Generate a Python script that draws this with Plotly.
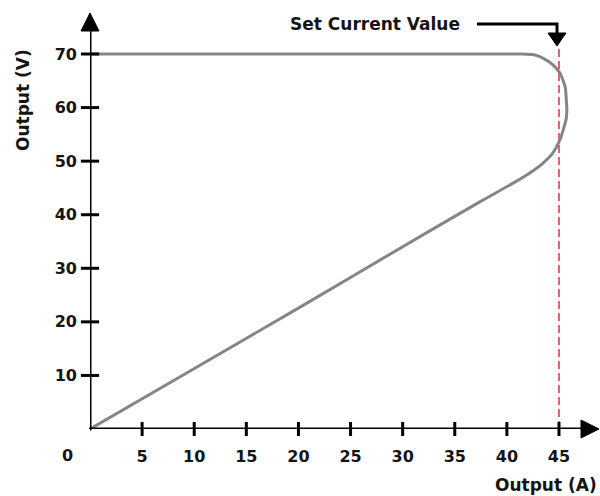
import plotly.graph_objects as go

# ---- data ----
current_a = [0, 10.1, 20.2, 29.8, 37.4, 40.6, 42.2, 43.5, 44.4, 45.1, 45.4, 45.7, 45.75,
             45.7, 45.6, 45.1, 44.4, 43.5, 42.6, 41.5, 0]
voltage_v = [0, 11.4, 22.8, 33.8, 42.4, 45.9, 47.8, 49.7, 51.5, 54.0, 55.8, 58.0, 60.0,
             61.4, 63.8, 66.4, 68.0, 69.2, 69.85, 70, 70]
x_ticks = [5, 10, 15, 20, 25, 30, 35, 40, 45]
y_ticks = [10, 20, 30, 40, 50, 60, 70]
set_current = 45
set_current_top_v = 71.3
set_label = "Set Current Value"
x_title = "Output (A)"
y_title = "Output (V)"

# ---- layout geometry ----
W, H = 600, 496
L, R, T, B = 90, 18, 28, 67
PW, PH = W - L - R, H - T - B
X_MAX = PW / 10.422
Y_MAX = PH / 5.357


def pxx(p):
    return (p - L) / PW


def pxy(p):
    return (H - B - p) / PH


FONT = "DejaVu Sans"
TXT = "#151515"

fig = go.Figure()

# set current dashed guide
fig.add_trace(go.Scatter(x=[set_current, set_current], y=[0, set_current_top_v],
                         mode="lines", line=dict(color="#d8232d", width=1.4, dash="8px,4px"),
                         hoverinfo="skip", showlegend=False, cliponaxis=False))

# characteristic curve
fig.add_trace(go.Scatter(x=current_a, y=voltage_v, mode="lines",
                         line=dict(color="#858585", width=3, shape="spline", smoothing=0.6),
                         showlegend=False, cliponaxis=False))

# crossing tick marks
fig.add_trace(go.Scatter(x=x_ticks, y=[0] * len(x_ticks), mode="markers",
                         marker=dict(symbol="line-ns-open", size=10, color="black",
                                     line=dict(width=3, color="black")),
                         hoverinfo="skip", showlegend=False, cliponaxis=False))
fig.add_trace(go.Scatter(x=[0] * len(y_ticks), y=y_ticks, mode="markers",
                         marker=dict(symbol="line-ew-open", size=13, color="black",
                                     line=dict(width=3, color="black")),
                         hoverinfo="skip", showlegend=False, cliponaxis=False))

shapes = []
# axis lines
shapes.append(dict(type="line", xref="paper", yref="y", x0=pxx(89), x1=pxx(584), y0=0, y1=0,
                   line=dict(color="black", width=3)))
shapes.append(dict(type="line", xref="x", yref="paper", x0=0, x1=0, y0=pxy(430.5), y1=pxy(28),
                   line=dict(color="black", width=3)))
# axis arrowheads
shapes.append(dict(type="path", xref="paper", yref="paper",
                   path=f"M {pxx(90)},{pxy(13)} L {pxx(81)},{pxy(31)} L {pxx(99)},{pxy(31)} Z",
                   fillcolor="black", line=dict(color="black", width=1)))
shapes.append(dict(type="path", xref="paper", yref="paper",
                   path=f"M {pxx(599)},{pxy(429)} L {pxx(581)},{pxy(420)} L {pxx(581)},{pxy(438)} Z",
                   fillcolor="black", line=dict(color="black", width=1)))
# set current callout arrow
shapes.append(dict(type="path", xref="paper", yref="paper",
                   path=f"M {pxx(477)},{pxy(24)} L {pxx(557)},{pxy(24)} L {pxx(557)},{pxy(34)}",
                   line=dict(color="black", width=3)))
shapes.append(dict(type="path", xref="paper", yref="paper",
                   path=f"M {pxx(548)},{pxy(33)} L {pxx(566)},{pxy(33)} L {pxx(557)},{pxy(46)} Z",
                   fillcolor="black", line=dict(color="black", width=1)))

annotations = [
    dict(text=f"<b>{set_label}</b>", xref="paper", yref="paper", x=pxx(375), y=pxy(24),
         showarrow=False, font=dict(family=FONT, size=17, color=TXT), xanchor="center", yanchor="middle"),
    dict(text=f"<b>{x_title}</b>", xref="paper", yref="paper", x=pxx(546), y=pxy(485),
         showarrow=False, font=dict(family=FONT, size=17, color=TXT), xanchor="center", yanchor="middle"),
    dict(text=f"<b>{y_title}</b>", xref="paper", yref="paper", x=pxx(23), y=pxy(100),
         showarrow=False, textangle=-90, font=dict(family=FONT, size=17, color=TXT),
         xanchor="center", yanchor="middle"),
    dict(text="<b>0</b>", xref="x", yref="y", x=0, y=0, xshift=-23, yshift=-26,
         showarrow=False, font=dict(family=FONT, size=16, color=TXT), xanchor="center", yanchor="middle"),
]

fig.update_layout(
    width=W, height=H, margin=dict(l=L, r=R, t=T, b=B),
    paper_bgcolor="white", plot_bgcolor="white",
    shapes=shapes, annotations=annotations,
    xaxis=dict(range=[0, X_MAX], tickvals=x_ticks, ticktext=[f"<b>{v}</b>" for v in x_ticks],
               showgrid=False, zeroline=False, showline=False, ticks="",
               tickfont=dict(family=FONT, size=16, color=TXT), ticklabelstandoff=16, fixedrange=True),
    yaxis=dict(range=[0, Y_MAX], tickvals=y_ticks, ticktext=[f"<b>{v}</b>" for v in y_ticks],
               showgrid=False, zeroline=False, showline=False, ticks="",
               tickfont=dict(family=FONT, size=16, color=TXT), ticklabelstandoff=12, fixedrange=True),
    showlegend=False,
)

fig.write_html("out.html", config={"displayModeBar": False},
               post_script="document.body.style.margin='0px';document.body.style.overflow='hidden';")
